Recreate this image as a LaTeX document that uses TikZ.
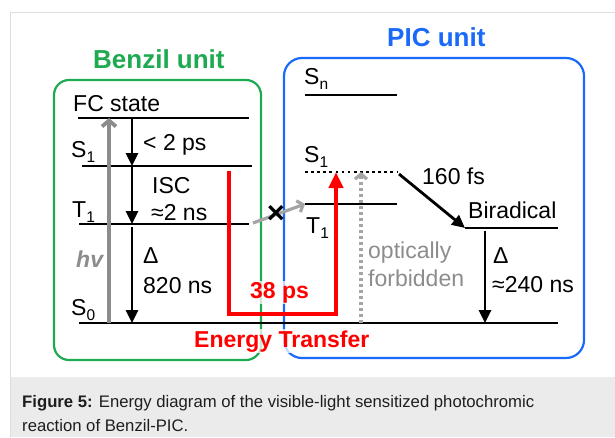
\documentclass[tikz,border=0pt]{standalone}
\usepackage{fontspec}
\setmainfont{Liberation Sans}
\usetikzlibrary{arrows.meta}
\definecolor{benzilgreen}{RGB}{30,170,80}
\definecolor{picblue}{RGB}{25,105,250}
\definecolor{etred}{RGB}{255,0,0}
\definecolor{hvgray}{RGB}{140,140,140}
\definecolor{leakgray}{RGB}{165,165,165}
\definecolor{framegray}{RGB}{222,222,222}
\definecolor{capbg}{RGB}{235,235,235}
\definecolor{capink}{RGB}{30,30,30}
\newcommand{\lvsub}[1]{\raisebox{-5pt}{\fontsize{15.5}{15.5}\selectfont #1}}
\begin{document}
\begin{tikzpicture}[x=1pt,y=-1pt,
  every node/.style={font=\fontsize{23}{27}\selectfont,inner sep=0pt},
  tag/.style={anchor=base west},
  level/.style={line width=2.7pt},
  unitbox/.style={line width=2.2pt},
  unittitle/.style={anchor=base west,font=\fontsize{26}{28}\selectfont\bfseries},
  decay/.style={line width=2.8pt,-{Triangle[length=13pt,width=12pt]}},
  light/.style={line width=3.8pt,hvgray,-{Straight Barb[length=6pt,width=14pt]}},
  leak/.style={line width=3.2pt,leakgray,-{Straight Barb[length=5pt,width=12pt]}},
  forbid/.style={line width=3.2pt,leakgray,dash pattern=on 3pt off 3pt,-{Straight Barb[length=5pt,width=12pt,sep=0pt]}},
  transfer/.style={line width=4.8pt,etred,-{Triangle[length=16pt,width=14pt]}},
  etlabel/.style={text=etred,font=\fontsize{23}{27}\selectfont\bfseries,fill=white,fill opacity=0.75,text opacity=1}
]
\useasboundingbox (0,0) rectangle (615,437);
% frame and caption strip
\fill[capbg] (10.5,377) rectangle (615,437);
\draw[framegray,line width=1pt] (10,437) -- (10,12) -- (615,12);
% the two units
\draw[unitbox,benzilgreen,rounded corners=15pt] (54,80) rectangle (261,360);
\draw[unitbox,picblue,rounded corners=18pt] (284,58) rectangle (584,358);
\node[unittitle,text=benzilgreen] (benzil) at (93,68) {Benzil unit};
\node[unittitle,text=picblue] (pic) at (387,46) {PIC unit};
% levels
\coordinate (fcL) at (78,118);   \coordinate (fcR) at (249,118);
\coordinate (s1L) at (82,166);   \coordinate (s1R) at (252,166);
\coordinate (t1L) at (79,224);   \coordinate (t1R) at (249,224);
\coordinate (s0L) at (79,323);   \coordinate (s0R) at (558,323);
\coordinate (snL) at (305,95);   \coordinate (snR) at (397,95);
\coordinate (ps1L) at (305,172); \coordinate (ps1R) at (397,172);
\coordinate (pt1L) at (305,204); \coordinate (pt1R) at (397,204);
\coordinate (birL) at (465,228); \coordinate (birR) at (558,228);
\draw[level] (fcL) -- (fcR);
\draw[level] (s1L) -- (s1R);
\draw[level] (t1L) -- (t1R);
\draw[level] (s0L) -- (s0R);
\draw[level] (snL) -- (snR);
\draw[level,dash pattern=on 2.7pt off 3.4pt] (ps1L) -- (ps1R);
\draw[level] (pt1L) -- (pt1R);
\draw[level] (birL) -- (birR);
% columns of the arrows
\coordinate (xhv) at (109,0);
\coordinate (xdec) at (132,0);
\coordinate (xopt) at (361,0);
\coordinate (xbir) at (485,0);
\coordinate (etS) at (229,171);
\coordinate (etB) at (336,314);
\coordinate (tripS) at (253,223);
\coordinate (relaxS) at (399,174);
% arrows
\draw[light] (xhv |- s0L) -- (xhv |- fcL);
\draw[decay] (xdec |- fcL) -- (xdec |- s1L);
\draw[decay] (xdec |- s1L) -- (xdec |- t1L);
\draw[decay,shorten <=3pt] (xdec |- t1L) -- (xdec |- s0L);
\draw[forbid] (xopt |- s0L) -- (xopt |- ps1L);
\draw[transfer] (etS) |- (etB) -- (etB |- ps1L);
\draw[leak] (tripS) -- (pt1L);
\node[font=\fontsize{31}{31}\selectfont\bfseries] (block) at (276,214) {×};
\draw[decay] (relaxS) -- (birL);
\draw[decay,shorten <=3pt] (xbir |- birL) -- (xbir |- s0L);
% labels
\node[tag] (fclab) at (73,111) {FC state};
\node[tag] (s1lab) at (71,157) {S\lvsub{1}};
\node[tag] (t1lab) at (72,217) {T\lvsub{1}};
\node[tag] (s0lab) at (71,315) {S\lvsub{0}};
\node[tag] (fastlab) at (143,150) {< 2 ps};
\node[tag] (isclab) at (152,193) {ISC};
\node[tag] (isctime) at (151,220) {≈2 ns};
\node[tag,text=hvgray,font=\fontsize{23}{27}\selectfont\bfseries\itshape] (hvlab) at (76,267) {hv};
\node[tag] (dlab) at (143,263) {Δ};
\node[tag] (dtime) at (143,293) {820 ns};
\node[tag] (snlab) at (304,84) {S\lvsub{n}};
\node[tag] (ps1lab) at (304,162) {S\lvsub{1}};
\node[tag] (pt1lab) at (306,233) {T\lvsub{1}};
\node[tag] (ringlab) at (422,184) {160 fs};
\node[tag] (birlab) at (468,218) {Biradical};
\node[tag,text=hvgray] (optlab) at (368,258) {optically};
\node[tag,text=hvgray] (forblab) at (368,286) {forbidden};
\node[tag] (d2lab) at (493,263) {Δ};
\node[tag] (d2time) at (492,292) {≈240 ns};
\node[tag,etlabel,inner sep=1pt] (etps) at (249,298) {38 ps};
\node[tag,etlabel,inner sep=1pt] (etlab) at (193,347) {Energy Transfer};
% caption
\node[tag,text=capink,font=\fontsize{16.7}{20}\selectfont] (cap1) at (22,407) {\textbf{Figure 5:} Energy diagram of the visible-light sensitized photochromic};
\node[tag,text=capink,font=\fontsize{16.7}{20}\selectfont] (cap2) at (22,431) {reaction of Benzil-PIC.};
\end{tikzpicture}
\end{document}
